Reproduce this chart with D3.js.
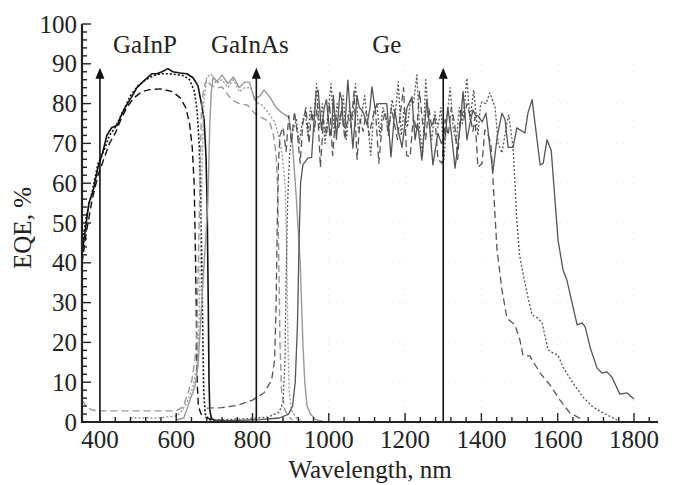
<!DOCTYPE html>
<html>
<head>
<meta charset="utf-8">
<script src="https://cdn.jsdelivr.net/npm/d3@7"></script>
<style>
  body { margin: 0; background: #fff; }
  text { font-family: "Liberation Serif", "Times New Roman", serif; fill: #222; }
</style>
</head>
<body>
<svg id="chart" width="674" height="485"></svg>
<script>
// tick labels
const xTicks = [400, 600, 800, 1000, 1200, 1400, 1600, 1800];
const yTicks = [0, 10, 20, 30, 40, 50, 60, 70, 80, 90, 100];

// junction names and the wavelengths the arrows stand at
const junctions = ["GaInP", "GaInAs", "Ge"];
const arrowWl = [400, 810, 1300];
const arrowTop = 89;

// GaInP top cell (black)
const gainpSolid = [[353,42],[360,47],[371,55],[382,58],[395,64],[408,68],[418,72],[431,74],[445,74.5],[458,77.5],[466,79],[479,81],[497,84],[513,85.5],[536,87.5],[549,87.5],[563,88],[578,88.8],[591,88],[610,87.7],[628,87.5],[644,86.5],[657,84.5],[667,79.5],[673,76],[678,67],[681,55],[684,30],[686,10],[688,3],[692,1],[700,0.4],[730,0.3]];
const gainpDotted = [[353,44],[365,52],[380,58],[395,65],[410,68],[425,72],[440,74],[460,78],[480,82],[500,84.5],[520,86],[540,87],[560,87.5],[580,87.5],[600,87.3],[620,87],[635,86],[648,83],[655,78],[660,70],[664,58],[667,40],[670,20],[672,8],[676,2],[685,0.6],[720,0.3]];
const gainpDashed = [[353,40],[365,48],[380,56],[395,62],[410,66],[425,70],[440,72.5],[455,76],[470,79],[490,81.5],[510,83],[530,83.5],[560,83.7],[590,83],[610,81.5],[625,79],[635,75],[642,69],[647,60],[650,45],[653,25],[655,10],[658,4],[665,2],[680,1],[700,0.5]];

// GaInAs middle cell (light grey)
const gainasSolid = [[600,0.5],[620,1],[636,5.5],[649,8.8],[657,14],[662,22],[672,38],[683,55],[688,75],[692,83],[697,86.7],[707,85.5],[720,87.2],[735,85],[750,86.7],[765,84],[780,85.4],[792,85.4],[805,81],[820,82],[830,83.4],[845,81.7],[862,79],[878,77.6],[895,76.6],[905,69.6],[915,56],[925,40],[932,20],[937,10],[943,4],[952,2],[965,0.6],[985,0.2]];
const gainasDotted = [[480,1],[550,1],[600,1.5],[610,2.2],[628,4.8],[644,8.8],[654,13.8],[660,25],[664,45],[668,65],[672,80],[680,86.7],[692,87.4],[705,85],[720,86],[735,84],[750,86],[765,83],[780,84],[795,84],[810,80.4],[825,79.6],[840,77.9],[858,75.4],[870,71.4],[878,67],[886,58.8],[890,40],[893,20],[896,8],[902,3],[915,1],[930,0.3]];
const gainasDashed = [[353,5.5],[365,3.8],[380,3],[395,2.8],[500,2.8],[600,2.8],[618,3.8],[631,7.3],[641,10.5],[649,15.6],[654,22],[658,40],[662,60],[666,78],[672,84],[680,86],[690,84.7],[705,83.9],[720,84.2],[745,81],[765,80],[787,79.6],[805,77.6],[825,76.4],[845,75.4],[855,72],[862,67],[866,58.8],[869,40],[872,20],[876,8],[885,3],[895,1.3],[905,0.5]];

// Ge bottom cell (dark grey)
const geSolid = [[700,0.3],[760,0.4],[820,0.6],[870,1],[895,2],[905,4],[912,10],[918,25],[922,45],[926,60],[932,64.6],[945,66.3],[955,66.5],[960,74],[967,83],[972,83.4],[981,73.4],[988,79],[994,81],[1003,71.9],[1008,74],[1012,82],[1020,71],[1029,82.9],[1034,81],[1038,74.5],[1042,74],[1050,85.9],[1056,78],[1063,68.8],[1074,82],[1080,79],[1087,78.4],[1093,77],[1100,74.6],[1108,79],[1113,84.2],[1121,79],[1131,80],[1152,80],[1163,66.6],[1173,78.4],[1180,74],[1192,69],[1205,79],[1218,81.7],[1226,70.9],[1233,75],[1244,65.8],[1257,81],[1265,73.4],[1273,64.6],[1286,72.6],[1295,70],[1305,71.6],[1312,79],[1322,72],[1331,63.8],[1344,74],[1352,83],[1362,70.9],[1370,75],[1378,78.4],[1385,77],[1391,77],[1402,75.4],[1412,77.6],[1430,62.8],[1442,72],[1454,77.6],[1462,76],[1470,69],[1483,69],[1493,73.9],[1514,72.6],[1522,77.6],[1533,81],[1554,64.6],[1562,65],[1572,70.9],[1583,68.3],[1601,45.7],[1614,38.2],[1624,35.7],[1651,24.4],[1664,24.9],[1672,23.9],[1685,18.8],[1703,13.6],[1716,12.3],[1729,12.6],[1742,11.3],[1763,7],[1782,7.3],[1800,5.8]];
const geDotted = [[700,0.5],[780,0.8],[840,1.2],[870,2.5],[880,5],[885,15],[888,35],[892,55],[897,67],[905,73],[915,76],[922,70],[930,75],[938,78],[945,72],[952,79],[960,76],[968,85],[975,74],[983,80],[990,70],[998,78],[1006,85],[1014,73],[1022,80],[1030,75],[1038,82],[1046,71],[1054,79],[1062,76],[1070,85],[1078,73],[1086,77],[1094,82],[1102,75],[1110,67],[1118,78],[1126,80],[1134,72],[1142,79],[1150,76],[1158,74],[1166,81],[1174,77],[1182,85.5],[1190,72],[1198,79],[1206,74],[1214,81],[1222,80],[1231,87.2],[1238,74],[1246,67],[1254,86],[1262,76],[1270,71],[1278,78],[1286,74],[1294,79],[1302,66],[1310,77],[1318,84],[1326,74],[1334,70],[1342,79],[1350,75],[1356,80],[1362,86.4],[1370,76],[1380,83.4],[1391,72],[1398,80],[1402,80.4],[1412,80],[1422,82.7],[1436,79.1],[1444,70],[1454,67.6],[1467,75.1],[1472,77.1],[1483,69],[1488,60],[1492,52],[1500,42],[1509,37.4],[1522,31.4],[1533,26.9],[1548,26.1],[1559,24.9],[1575,18.1],[1588,17.3],[1601,16.8],[1614,13.8],[1640,9.8],[1666,6.3],[1692,3.8],[1719,2.3],[1756,0.5]];
const geDashed = [[680,3.5],[720,3.6],[760,4.2],[800,5.5],[830,7.3],[850,10.5],[858,15.6],[862,30],[865,50],[868,65],[872,72],[880,74],[888,68],[895,77],[902,70],[910,78],[918,72],[925,65],[932,75],[940,79],[948,70],[955,78],[962,73],[970,80],[978,64],[986,76],[994,72],[1002,80],[1010,67],[1018,77],[1026,74],[1034,79],[1042,71],[1050,77],[1058,74],[1066,83],[1074,66],[1082,76],[1090,73],[1098,78],[1106,72],[1114,76],[1122,79],[1131,65],[1140,75],[1148,78],[1156,72],[1164,79],[1172,75],[1180,71],[1188,78],[1196,84],[1204,67],[1213,66.6],[1222,77],[1230,73],[1238,83],[1246,75],[1254,71],[1262,79],[1270,74],[1278,77],[1286,66],[1297,65],[1305,76],[1313,72],[1321,79],[1330,75],[1338,66],[1346,79],[1354,76],[1362,80],[1370,77],[1378,73],[1383,76.6],[1391,64],[1402,65],[1409,73.4],[1418,72],[1425,70],[1430,61.6],[1436,51.5],[1441,43.2],[1454,33.2],[1467,26.1],[1488,24.4],[1501,20.6],[1509,16.8],[1527,16.6],[1554,12.3],[1580,9.3],[1606,5.5],[1632,2.3],[1666,0.5]];

const svg = d3.select("#chart");

// plot box
const x = d3.scaleLinear().domain([353, 1863]).range([82, 658]);
const y = d3.scaleLinear().domain([0, 100]).range([422, 24]);

// faint dotted grid, barely visible in the original
const grid = svg.append("g").attr("stroke", "#e8e8e8").attr("stroke-dasharray", "1,6");
grid.selectAll("line.gx").data(xTicks.filter(d => d >= 1000)).join("line")
  .attr("x1", d => x(d)).attr("x2", d => x(d))
  .attr("y1", y(0)).attr("y2", y(90));
grid.selectAll("line.gy").data(yTicks.filter(d => d > 0 && d < 90)).join("line")
  .attr("x1", x(1000)).attr("x2", x(1800))
  .attr("y1", d => y(d)).attr("y2", d => y(d));

// the curves
const line = d3.line().x(d => x(d[0])).y(d => y(d[1]));
const series = [
  { data: gainpSolid,  color: "#111", width: 1.6, dash: null },
  { data: gainpDotted, color: "#111", width: 1.6, dash: "2,2" },
  { data: gainpDashed, color: "#111", width: 1.4, dash: "7,4" },
  { data: gainasSolid,  color: "#999", width: 1.4, dash: null },
  { data: gainasDotted, color: "#999", width: 1.4, dash: "2,2" },
  { data: gainasDashed, color: "#999", width: 1.4, dash: "7,4" },
  { data: geSolid,  color: "#555", width: 1.3, dash: null },
  { data: geDotted, color: "#555", width: 1.3, dash: "2,2" },
  { data: geDashed, color: "#555", width: 1.3, dash: "7,4" }
];
svg.append("g").selectAll("path")
  .data(series)
  .join("path")
  .attr("d", d => line(d.data))
  .attr("fill", "none")
  .attr("stroke", d => d.color)
  .attr("stroke-width", d => d.width)
  .attr("stroke-dasharray", d => d.dash)
  .attr("stroke-linejoin", "round");

// arrows
const arrows = svg.append("g");
arrows.selectAll("line").data(arrowWl).join("line")
  .attr("x1", d => x(d)).attr("x2", d => x(d))
  .attr("y1", y(0)).attr("y2", y(arrowTop) + 8)
  .attr("stroke", "#111").attr("stroke-width", 1.6);
arrows.selectAll("path").data(arrowWl).join("path")
  .attr("d", d => `M${x(d)},${y(arrowTop)} L${x(d) - 4.5},${y(arrowTop) + 11} L${x(d) + 4.5},${y(arrowTop) + 11} Z`)
  .attr("fill", "#111");

// junction labels
const labelWl = [518, 793, 1152];
svg.append("g").selectAll("text").data(junctions).join("text")
  .attr("x", (d, i) => x(labelWl[i]))
  .attr("y", 53)
  .attr("text-anchor", "middle")
  .attr("font-size", 25)
  .text(d => d);

// axes: ticks point inward, majors longer
const axes = svg.append("g").attr("stroke", "#222");
axes.append("line").attr("x1", 82).attr("x2", 658).attr("y1", y(0)).attr("y2", y(0)).attr("stroke-width", 2.2);
axes.append("line").attr("x1", 82).attr("x2", 82).attr("y1", y(0) + 1).attr("y2", y(100)).attr("stroke-width", 2.2);

const xMinor = d3.range(400, 1841, 40);
axes.selectAll("line.xt").data(xMinor).join("line")
  .attr("x1", d => x(d)).attr("x2", d => x(d))
  .attr("y1", y(0)).attr("y2", d => y(0) - (d % 200 === 0 ? 9 : 5))
  .attr("stroke-width", 1.4);
const yMinor = d3.range(2, 101, 2);
axes.selectAll("line.yt").data(yMinor).join("line")
  .attr("x1", 82).attr("x2", d => 82 + (d % 10 === 0 ? 9 : 5))
  .attr("y1", d => y(d)).attr("y2", d => y(d))
  .attr("stroke-width", 1.4);

svg.append("g").selectAll("text").data(xTicks).join("text")
  .attr("x", d => x(d)).attr("y", 448)
  .attr("text-anchor", "middle").attr("font-size", 25)
  .text(d => d);
svg.append("g").selectAll("text").data(yTicks).join("text")
  .attr("x", 77).attr("y", d => y(d) + 8.5)
  .attr("text-anchor", "end").attr("font-size", 25)
  .text(d => d);

// axis titles
svg.append("text").attr("x", 370).attr("y", 478)
  .attr("text-anchor", "middle").attr("font-size", 25)
  .text("Wavelength, nm");
svg.append("text").attr("transform", "translate(31,228) rotate(-90)")
  .attr("text-anchor", "middle").attr("font-size", 25)
  .text("EQE, %");
</script>
</body>
</html>
